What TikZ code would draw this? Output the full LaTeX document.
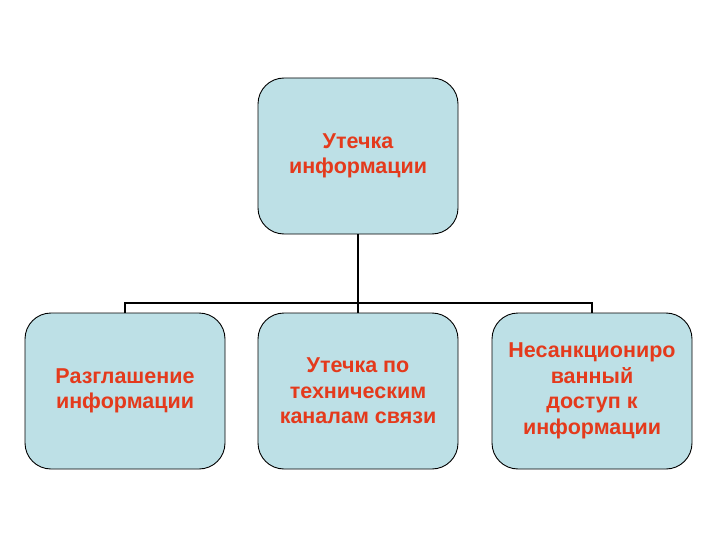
\documentclass[tikz,border=0pt]{standalone}
\usepackage{fontspec}
\setmainfont{Liberation Sans}
\usepackage{xcolor}
\usepackage{tikz}

\definecolor{boxfill}{RGB}{189,224,230}
\definecolor{boxtext}{RGB}{228,58,28}

\begin{document}
\begin{tikzpicture}[x=1pt, y=-1pt,
  block/.style={rectangle, rounded corners=26pt, draw, line width=0.9pt, fill=boxfill,
    minimum width=200pt, minimum height=156pt, align=center, text=boxtext,
    font=\fontsize{21.5}{25.5}\selectfont\bfseries},
  conn/.style={draw, line width=2pt}]
\useasboundingbox (0,0) rectangle (720,540);

\node (leak) [block] at (358,156) {Утечка\\информации};
\node (disclosure) [block] at (125,391) {Разглашение\\информации};
\node (channels) [block] at (358,391) {Утечка по\\техническим\\каналам связи};
\node (access) [block] at (592,391) {Несанкциониро\\ванный\\доступ к\\информации};

\coordinate (bus) at (358,303);

\draw[conn] (leak.south) -- (bus);
\draw[conn] (disclosure.north) |- (bus) -| (access.north);
\draw[conn] (channels.north) -- (bus);
\end{tikzpicture}
\end{document}
